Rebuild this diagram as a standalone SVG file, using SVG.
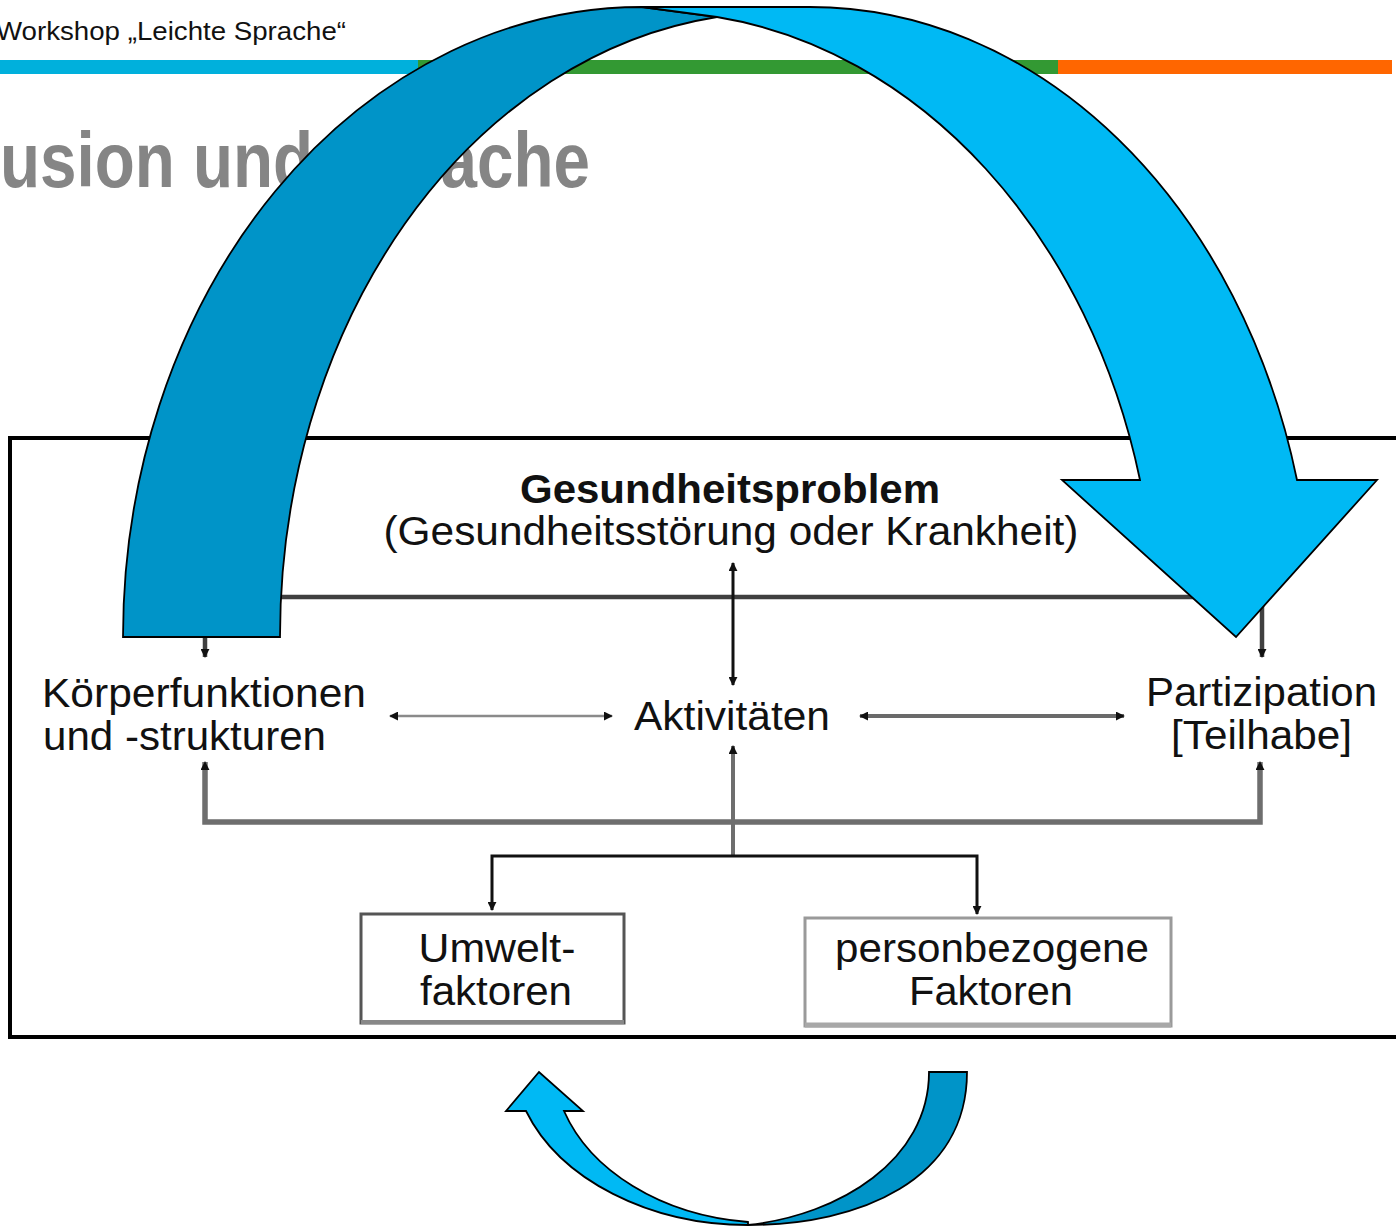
<svg xmlns="http://www.w3.org/2000/svg" width="1396" height="1226" viewBox="0 0 1396 1226">
<defs>
<style>
text { font-family: "Liberation Sans", Arial, sans-serif; fill: #111; }
.lbl { font-size: 41px; }
.b { font-weight: bold; }
.conn path { fill: none; }
.big { stroke: #000; stroke-width: 1.8; stroke-linejoin: miter; }
.dark { fill: #0094c8; }
.light { fill: #00b9f4; }
.box { fill: #fff; }
</style>
<marker id="ah" viewBox="0 0 10 10" refX="9" refY="5" markerWidth="9" markerHeight="9" markerUnits="userSpaceOnUse" orient="auto-start-reverse">
<path d="M0,0 L10,5 L0,10 z" fill="#111"/>
</marker>
</defs>
<rect x="0" y="0" width="1396" height="1226" fill="#fff"/>

<g id="header">
<text x="-4" y="40" font-size="26" textLength="350" lengthAdjust="spacingAndGlyphs">Workshop „Leichte Sprache“</text>
<rect x="0" y="60" width="418" height="14" fill="#00b0dc"/>
<rect x="418" y="60" width="640" height="14" fill="#339933"/>
<rect x="1058" y="60" width="334" height="14" fill="#ff6600"/>
</g>

<g id="title">
<text x="0" y="187" font-family="'Liberation Sans Narrow', 'DejaVu Sans', sans-serif" font-stretch="condensed" font-weight="bold" font-size="78" fill="#858585" style="fill:#858585" textLength="590" lengthAdjust="spacingAndGlyphs">usion und Sprache</text>
</g>

<g id="frame">
<rect x="10" y="438" width="1400" height="599" fill="none" stroke="#000" stroke-width="4"/>
</g>

<g class="conn" id="connectors">
<path d="M205,657 L205,597 L1262,597 L1262,657" stroke="#404040" stroke-width="4.5" marker-start="url(#ah)" marker-end="url(#ah)"/>
<path d="M733,563 L733,685" stroke="#111" stroke-width="3" marker-start="url(#ah)" marker-end="url(#ah)"/>
<path d="M390,716 L612,716" stroke="#8a8a8a" stroke-width="2.5" marker-start="url(#ah)" marker-end="url(#ah)"/>
<path d="M860,716 L1124,716" stroke="#6a6a6a" stroke-width="4" marker-start="url(#ah)" marker-end="url(#ah)"/>
<path d="M205,762 L205,822 L1260,822 L1260,762" stroke="#6e6e6e" stroke-width="5.5" marker-start="url(#ah)" marker-end="url(#ah)"/>
<path d="M733,855 L733,746" stroke="#6e6e6e" stroke-width="4" marker-end="url(#ah)"/>
<path d="M492,910 L492,856 L977,856 L977,914" stroke="#111" stroke-width="3" marker-start="url(#ah)" marker-end="url(#ah)"/>
</g>

<g id="node-gesundheitsproblem">
<text class="lbl b" x="730" y="503" text-anchor="middle" textLength="420" lengthAdjust="spacingAndGlyphs">Gesundheitsproblem</text>
<text class="lbl" x="731" y="545" text-anchor="middle" textLength="695" lengthAdjust="spacingAndGlyphs">(Gesundheitsstörung oder Krankheit)</text>
</g>

<g id="node-koerper">
<text class="lbl" x="42" y="707" textLength="324" lengthAdjust="spacingAndGlyphs">Körperfunktionen</text>
<text class="lbl" x="43" y="750" textLength="283" lengthAdjust="spacingAndGlyphs">und -strukturen</text>
</g>

<g id="node-aktivitaeten">
<text class="lbl" x="634" y="730" textLength="196" lengthAdjust="spacingAndGlyphs">Aktivitäten</text>
</g>

<g id="node-partizipation">
<text class="lbl" x="1146" y="706" textLength="231" lengthAdjust="spacingAndGlyphs">Partizipation</text>
<text class="lbl" x="1171" y="749" textLength="181" lengthAdjust="spacingAndGlyphs">[Teilhabe]</text>
</g>

<g id="node-umwelt">
<rect class="box" x="361" y="914" width="263" height="109" stroke="#555" stroke-width="3"/>
<line x1="361" y1="1022" x2="624" y2="1022" stroke="#888" stroke-width="4"/>
<text class="lbl" x="497" y="962" text-anchor="middle" textLength="157" lengthAdjust="spacingAndGlyphs">Umwelt-</text>
<text class="lbl" x="496" y="1005" text-anchor="middle" textLength="152" lengthAdjust="spacingAndGlyphs">faktoren</text>
</g>

<g id="node-person">
<rect class="box" x="805" y="918" width="366" height="108" stroke="#9a9a9a" stroke-width="3"/>
<line x1="805" y1="1025" x2="1171" y2="1025" stroke="#a8a8a8" stroke-width="5"/>
<text class="lbl" x="992" y="962" text-anchor="middle" textLength="314" lengthAdjust="spacingAndGlyphs">personbezogene</text>
<text class="lbl" x="991" y="1005" text-anchor="middle" textLength="164" lengthAdjust="spacingAndGlyphs">Faktoren</text>
</g>

<g id="big-arrow">
<path class="big dark" d="M123,637 A519,630 0 0 1 642,7 L717,17 A500,625 0 0 0 280,637 Z"/>
<path class="big light" d="M642,7 L810,7 A503,630 0 0 1 1297,480 L1377,480 L1236,637 L1062,480 L1140,480 A506,625 0 0 0 717,17 Z"/>
</g>

<g id="small-arrow">
<path class="big dark" d="M967,1072 C967,1180 860,1225 748,1225 C840,1215 929,1160 929,1072 Z"/>
<path class="big light" d="M748,1225 C650,1225 560,1180 526,1111 L506,1111 L539,1072 L583,1111 L564,1111 C590,1170 660,1215 748,1222 Z"/>
</g>
</svg>
